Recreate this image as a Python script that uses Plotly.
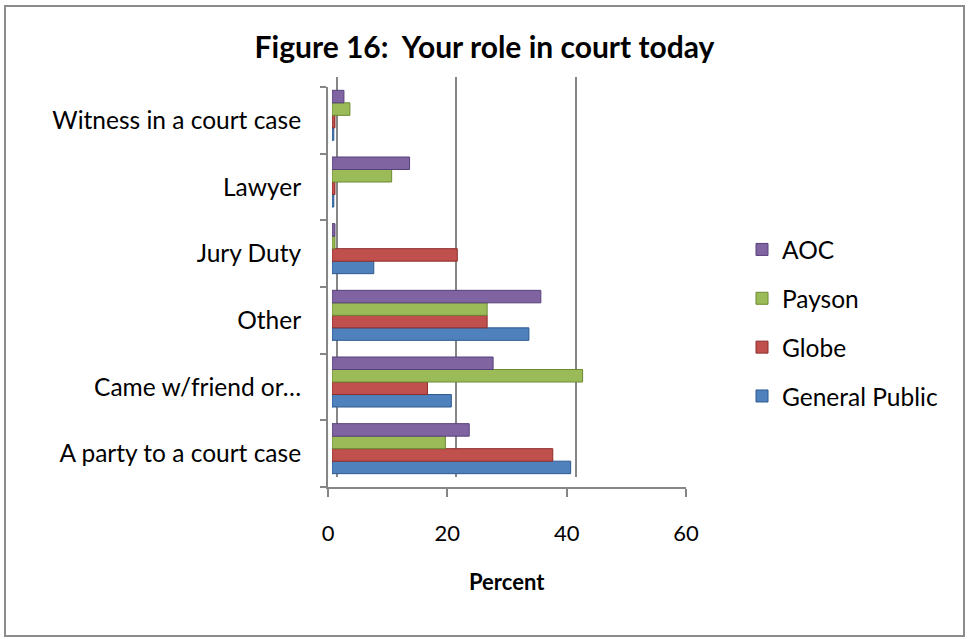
import plotly.graph_objects as go

categories = ["A party to a court case", "Came w/friend or…", "Other", "Jury Duty", "Lawyer", "Witness in a court case"]
general_public = [40, 20, 33, 7, 0.3, 0.3]
globe = [37, 16, 26, 21, 0.5, 0.5]
payson = [19, 42, 26, 0.5, 10, 3]
aoc = [23, 27, 35, 0.5, 13, 2]
x_ticks = [0, 20, 40, 60]

series = [
    ("General Public", general_public, "#4F81BD", "#2C5A8F", 4),
    ("Globe", globe, "#C0504D", "#8C2E2B", 3),
    ("Payson", payson, "#9BBB59", "#6B8A32", 2),
    ("AOC", aoc, "#8064A2", "#56407A", 1),
]

W, H = 969, 639
L, R, T, B = 328, 274, 77, 152
pw, ph = W - L - R, H - T - B
front_w, front_h = 358, 400
dx_back, dy_back = 9, 10
dx_mid, dy_mid = 4, 5
FONT = "Lato, Calibri, sans-serif"
AXC = "#868686"

fig = go.Figure()

fig.add_trace(go.Bar(y=categories, x=[0] * len(categories), orientation="h",
                     xaxis="x", yaxis="y", showlegend=False, hoverinfo="skip",
                     marker=dict(color="rgba(0,0,0,0)")))
fig.add_trace(go.Scatter(x=[], y=[], xaxis="x2", yaxis="y2", showlegend=False, hoverinfo="skip"))

for name, vals, col, edge, rank in series:
    fig.add_trace(go.Bar(
        y=categories, x=vals, orientation="h", name=name,
        xaxis="x3", yaxis="y3", legendgroup=name, legendrank=rank,
        marker=dict(color=col, line=dict(color=edge, width=1)),
    ))

fig.update_layout(
    width=W, height=H,
    margin=dict(l=L, r=R, t=T, b=B, pad=0),
    paper_bgcolor="white", plot_bgcolor="rgba(0,0,0,0)",
    barmode="group", bargap=0.25, bargroupgap=0,
    font=dict(family=FONT, size=24, color="#000000"),
    title=dict(text="<b>Figure 16:  Your role in court today</b>", x=0.5, xref="container",
               y=1 - 47 / H, yref="container", yanchor="middle", xanchor="center",
               font=dict(size=30, family=FONT, color="#000000")),
    xaxis=dict(domain=[0, front_w / pw], range=[0, 60], tickvals=x_ticks, anchor="y",
               showgrid=False, zeroline=False, showline=True, linecolor=AXC, linewidth=2,
               ticks="outside", ticklen=8, tickwidth=2, tickcolor=AXC,
               ticklabelstandoff=18, tickfont=dict(size=22)),
    yaxis=dict(domain=[0, front_h / ph], type="category", categoryorder="array",
               categoryarray=categories, range=[-0.5, len(categories) - 0.5], anchor="x",
               showgrid=False, zeroline=False, showline=True, linecolor=AXC, linewidth=2,
               ticks="outside", ticklen=6, tickwidth=2, tickcolor=AXC, tickson="boundaries",
               ticklabelstandoff=20, tickfont=dict(size=24.5)),
    xaxis2=dict(domain=[dx_back / pw, 1], range=[0, 60], dtick=20, anchor="y2",
                showgrid=True, gridcolor=AXC, gridwidth=2, zeroline=True, zerolinecolor=AXC,
                zerolinewidth=2, showticklabels=False, ticks="", showline=False),
    yaxis2=dict(domain=[dy_back / ph, 1], range=[0, 1], anchor="x2", visible=False,
                showgrid=False, zeroline=False),
    xaxis3=dict(domain=[dx_mid / pw, (front_w + dx_mid) / pw], range=[0, 60], anchor="y3",
                visible=False, showgrid=False, zeroline=False),
    yaxis3=dict(domain=[dy_mid / ph, (front_h + dy_mid) / ph], type="category",
                categoryorder="array", categoryarray=categories,
                range=[-0.5, len(categories) - 0.5], anchor="x3", visible=False),
    legend=dict(x=(742 - L) / pw, y=(H - B - 227) / ph, xanchor="left", yanchor="top",
                traceorder="grouped", tracegroupgap=14,
                font=dict(size=24.5, family=FONT), bgcolor="rgba(0,0,0,0)"),
    showlegend=True,
)

fig.add_annotation(text="<b>Percent</b>", xref="paper", yref="paper",
                   x=(front_w / 2) / pw, y=-(581 - (H - B)) / ph, showarrow=False,
                   xanchor="center", yanchor="middle", font=dict(size=22, family=FONT))

fig.add_shape(type="rect", xref="paper", yref="paper",
              x0=(5 - L) / pw, x1=(964 - L) / pw,
              y0=((H - B) - 636) / ph, y1=((H - B) - 6) / ph,
              line=dict(color="#8C8C8C", width=2), fillcolor="rgba(0,0,0,0)", layer="below")

fig.write_html("out.html", config={"displayModeBar": False},
               post_script="document.body.style.margin='0px';")
